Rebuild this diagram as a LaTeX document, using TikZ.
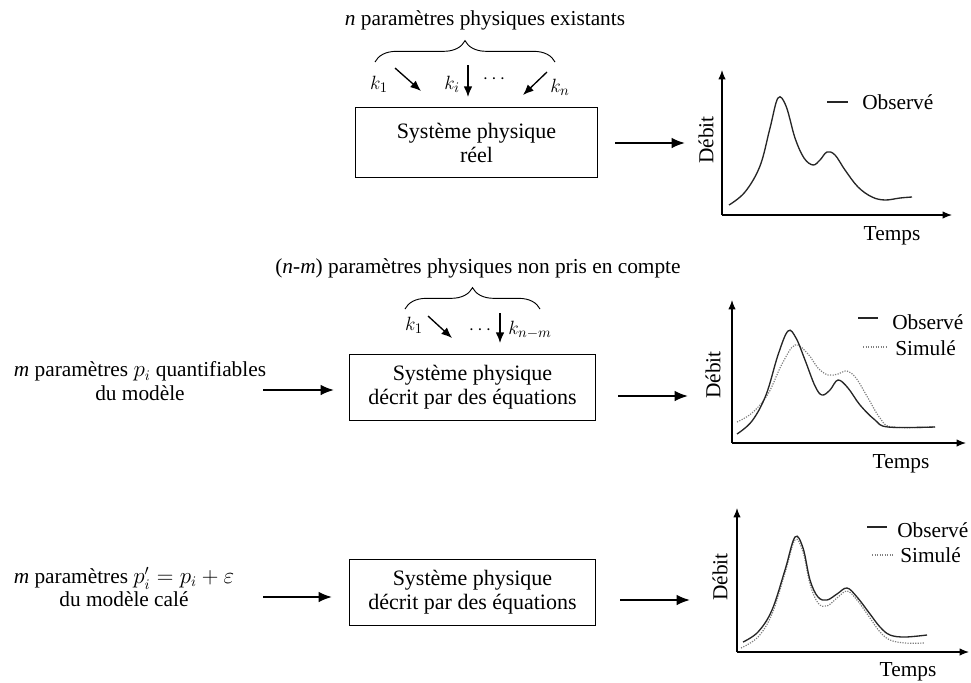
\documentclass[tikz,border=0pt]{standalone}
\usepackage{fontspec}
\setmainfont{Liberation Serif}
\usetikzlibrary{arrows.meta,decorations.pathreplacing}
\begin{document}
\begin{tikzpicture}[x=0.75pt,y=-0.75pt,
  txt/.style={font=\fontsize{16}{17.5}\selectfont, align=center, inner sep=0pt},
  legt/.style={font=\fontsize{16}{17.5}\selectfont, anchor=west, inner sep=0pt},
  klbl/.style={font=\fontsize{15}{15}\selectfont, inner sep=0pt},
  sysbox/.style={draw, line width=0.9pt, font=\fontsize{16.5}{18}\selectfont, align=center, inner sep=0pt},
  brc/.style={decorate, decoration={brace, amplitude=16pt}, line width=0.7pt},
  karrow/.style={line width=1pt, -{Latex[length=8pt,width=6.5pt]}},
  bigarrow/.style={line width=1.5pt, -{Latex[length=10pt,width=8pt]}},
  axis/.style={line width=0.9pt, -{Latex[length=7pt,width=5.5pt]}},
  obs/.style={line width=1pt, black!85},
  sim/.style={line width=0.9pt, black!50, densely dotted}]
\useasboundingbox (0,0) rectangle (971,682);

% ---------------- Row 1 ----------------
\node[txt] (t1) at (485,20) {\textit{n} paramètres physiques existants};
\coordinate (br1a) at (375,62);
\coordinate (br1b) at (555,62);
\draw[brc] (br1a) -- (br1b);
\node[klbl] (k1a) at (379,84) {$k_1$};
\coordinate (k1s) at (395,68); \coordinate (k1e) at (421,91);
\draw[karrow] (k1s) -- (k1e);
\node[klbl] (kia) at (452,84) {$k_i$};
\coordinate (kis) at (468,65); \coordinate (kie) at (468,97);
\draw[karrow] (kis) -- (kie);
\node[klbl] (dots1) at (494,79) {$\cdots$};
\coordinate (kns) at (547,72); \coordinate (kne) at (523,95);
\draw[karrow] (kns) -- (kne);
\node[klbl] (kna) at (560,87) {$k_n$};

\node[sysbox, minimum width=182pt, minimum height=52pt] (b1) at (476.5,142.5) {Système physique\\réel};
\coordinate (a1s) at (615,143); \coordinate (a1e) at (685,143);
\draw[bigarrow] (a1s) -- (a1e);

% graph 1
\coordinate (o1) at (722,215);
\coordinate (y1) at (722,70);
\coordinate (x1) at (952,215);
\draw[axis] (o1) -- (y1);
\draw[axis] (o1) -- (x1);
\node[txt, rotate=90] (d1) at (706,140) {Débit};
\node[txt] (tp1) at (892,236) {Temps};
\draw[obs] plot[smooth, tension=0.6] coordinates {(729,205) (745,192) (760,166) (770,128) (778,98) (786,106) (795,138) (804,158) (813,165) (820,160) (827,152) (835,155) (845,170) (858,187) (872,197) (885,200) (900,198) (912,197)};
\coordinate (l1a) at (827,102); \coordinate (l1b) at (848,102);
\draw[obs] (l1a) -- (l1b);
\node[legt] (lo1) at (862,102) {Observé};

% ---------------- Row 2 ----------------
\node[txt] (t2) at (478,268) {(\textit{n-m}) paramètres physiques non pris en compte};
\coordinate (br2a) at (405,309);
\coordinate (br2b) at (540,309);
\draw[brc] (br2a) -- (br2b);
\node[klbl] (k1b) at (414,325) {$k_1$};
\coordinate (k2s) at (428,316); \coordinate (k2e) at (452,338);
\draw[karrow] (k2s) -- (k2e);
\node[klbl] (dots2) at (480,330) {$\cdots$};
\coordinate (kms) at (500,313); \coordinate (kme) at (500,343);
\draw[karrow] (kms) -- (kme);
\node[klbl] (knm) at (530,330) {$k_{n-m}$};

\node[txt] (lab2) at (140,381) {\textit{m} paramètres $p_i$ quantifiables\\du modèle};
\coordinate (l2s) at (263,390); \coordinate (l2e) at (334,390);
\draw[bigarrow] (l2s) -- (l2e);
\node[sysbox, minimum width=184pt, minimum height=49pt] (b2) at (472.5,387.5) {Système physique\\décrit par des équations};
\coordinate (a2s) at (618,396); \coordinate (a2e) at (688,396);
\draw[bigarrow] (a2s) -- (a2e);

% graph 2
\coordinate (o2) at (732,443);
\coordinate (y2) at (732,300);
\coordinate (x2) at (966,443);
\draw[axis] (o2) -- (y2);
\draw[axis] (o2) -- (x2);
\node[txt, rotate=90] (d2) at (713,375) {Débit};
\node[txt] (tp2) at (901,464) {Temps};
\draw[sim] plot[smooth, tension=0.6] coordinates {(737,422) (752,413) (768,394) (782,364) (795,345) (808,354) (818,368) (828,375) (838,374) (847,371) (856,378) (868,398) (880,418) (892,427) (935,427)};
\draw[obs] plot[smooth, tension=0.6] coordinates {(737,434) (752,421) (766,395) (778,355) (788,331) (796,338) (805,360) (815,386) (822,395) (830,390) (838,380) (848,388) (860,405) (875,420) (888,427) (935,427)};
\coordinate (l2a) at (858,318); \coordinate (l2b) at (878,318);
\draw[obs] (l2a) -- (l2b);
\node[legt] (lo2) at (892,322) {Observé};
\coordinate (l2c) at (863,347); \coordinate (l2d) at (888,347);
\draw[sim] (l2c) -- (l2d);
\node[legt] (ls2) at (895,348) {Simulé};

% ---------------- Row 3 ----------------
\node[txt] (lab3) at (124,587) {\textit{m} paramètres $p'_i = p_i + \varepsilon$\\du modèle calé};
\coordinate (l3s) at (263,597); \coordinate (l3e) at (332,597);
\draw[bigarrow] (l3s) -- (l3e);
\node[sysbox, minimum width=184pt, minimum height=49pt] (b3) at (472.5,592.5) {Système physique\\décrit par des équations};
\coordinate (a3s) at (620,600); \coordinate (a3e) at (690,600);
\draw[bigarrow] (a3s) -- (a3e);

% graph 3
\coordinate (o3) at (737,652);
\coordinate (y3) at (737,508);
\coordinate (x3) at (969,652);
\draw[axis] (o3) -- (y3);
\draw[axis] (o3) -- (x3);
\node[txt, rotate=90] (d3) at (720,577) {Débit};
\node[txt] (tp3) at (908,672) {Temps};
\draw[sim] plot[smooth, tension=0.6] coordinates {(741,648) (758,637) (772,614) (785,573) (795,540) (803,552) (810,584) (818,603) (827,606) (837,598) (847,591) (857,600) (870,618) (880,632) (890,640) (905,643) (925,643)};
\draw[obs] plot[smooth, tension=0.6] coordinates {(743,642) (758,632) (772,610) (785,570) (795,537) (803,548) (810,580) (818,597) (827,600) (837,594) (847,588) (857,597) (870,614) (880,627) (890,635) (905,637) (927,635)};
\coordinate (l3a) at (867,527); \coordinate (l3b) at (887,527);
\draw[obs] (l3a) -- (l3b);
\node[legt] (lo3) at (897,530) {Observé};
\coordinate (l3c) at (872,555); \coordinate (l3d) at (893,555);
\draw[sim] (l3c) -- (l3d);
\node[legt] (ls3) at (900,555) {Simulé};
\end{tikzpicture}
\end{document}
